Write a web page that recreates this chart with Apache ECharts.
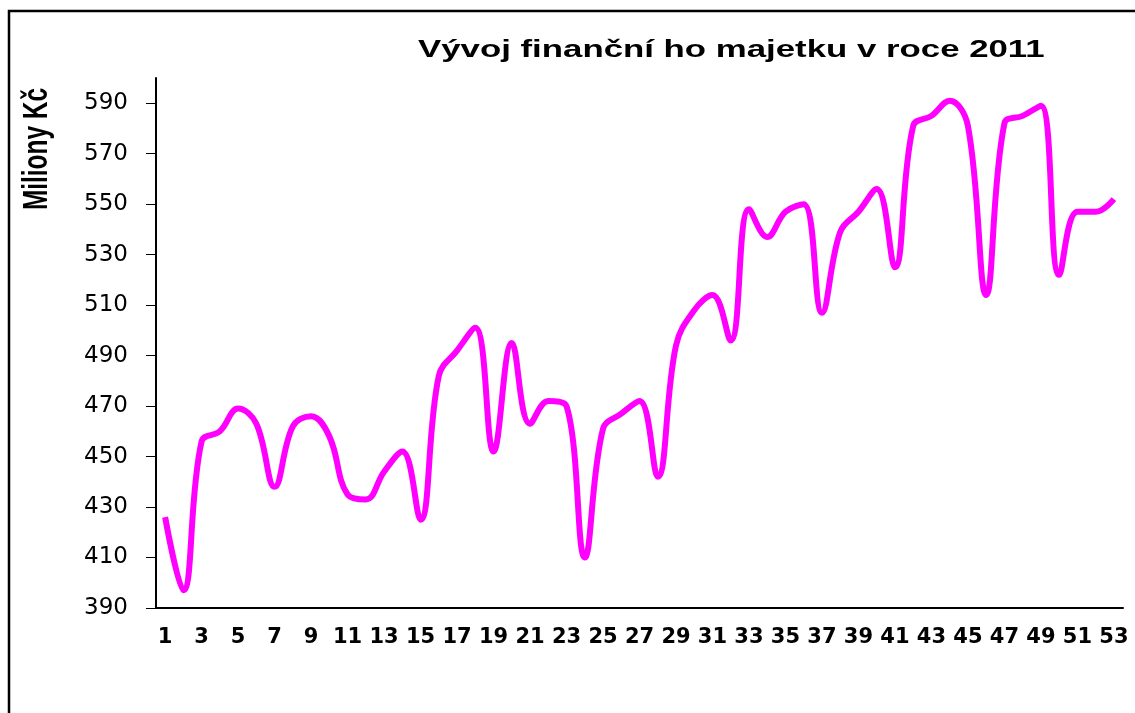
<!DOCTYPE html>
<html>
<head>
<meta charset="utf-8">
<script src="https://cdn.jsdelivr.net/npm/echarts@6/dist/echarts.min.js"></script>
<style>
  html, body { margin: 0; padding: 0; background: #fff; }
  #chart { width: 1135px; height: 713px; }
</style>
</head>
<body>
<div id="chart"></div>
<script>
// weeks of 2011
const weeks = [];
for (let i = 1; i <= 53; i++) weeks.push(String(i));

// finanční majetek, miliony Kč
const values = [
    426, 397, 456, 460, 469, 463, 438, 462, 466, 458,
    435, 433, 444, 452, 425, 482, 492, 501, 452, 495,
    463, 472, 470, 410, 461, 467, 472, 442, 494, 508,
    514, 496, 548, 537, 547, 550, 507, 539, 547, 556,
    525, 581, 585, 591, 581, 514, 582, 585, 589, 522,
    547, 547, 552
];

const titleText = 'Vývoj finanční ho majetku v roce 2011';
const yName = 'Miliony Kč';

const chart = echarts.init(document.getElementById('chart'));

const option = {
    animation: false,
    backgroundColor: '#fff',
    graphic: [
        {
            type: 'rect',
            shape: { x: 9, y: 11, width: 1300, height: 900 },
            style: { fill: 'none', stroke: '#000', lineWidth: 2.5 },
            silent: true
        },
        {
            // title, stretched sideways like the original picture
            type: 'text',
            x: 418,
            y: 50,
            scaleX: 1.45,
            style: {
                text: titleText,
                fontFamily: 'Liberation Sans',
                fontWeight: 'bold',
                fontSize: 24,
                fill: '#000',
                align: 'left',
                verticalAlign: 'middle'
            }
        },
        {
            type: 'text',
            x: 37,
            y: 149,
            rotation: Math.PI / 2,
            scaleX: 0.94,
            scaleY: 1.35,
            style: {
                text: yName,
                fontFamily: 'Liberation Sans',
                fontWeight: 'bold',
                fontSize: 26,
                fill: '#000',
                align: 'center',
                verticalAlign: 'middle'
            }
        }
    ],
    grid: {
        left: 156,
        right: 12,
        top: 78,
        bottom: 105
    },
    xAxis: {
        type: 'category',
        data: weeks,
        boundaryGap: true,
        axisLine: { lineStyle: { color: '#000', width: 2 } },
        axisTick: { interval: 0, length: 6, lineStyle: { color: '#000', width: 1.5 } },
        axisLabel: {
            interval: 1,
            margin: 19,
            color: '#000',
            fontFamily: 'DejaVu Sans',
            fontWeight: 'bold',
            fontSize: 21
        },
        splitLine: { show: false }
    },
    yAxis: {
        type: 'value',
        min: 390,
        max: 600,
        interval: 20,
        axisLine: { show: true, lineStyle: { color: '#000', width: 2 } },
        axisTick: { show: true, length: 10, lineStyle: { color: '#000', width: 1 } },
        axisLabel: {
            showMaxLabel: false,
            margin: 28,
            color: '#000',
            fontFamily: 'DejaVu Sans',
            fontSize: 23
        },
        splitLine: { show: false }
    },
    series: [
        {
            type: 'line',
            data: values,
            smooth: 0.4,
            symbol: 'none',
            lineStyle: { color: '#ff00ff', width: 6 }
        }
    ]
};

chart.setOption(option);
</script>
</body>
</html>
